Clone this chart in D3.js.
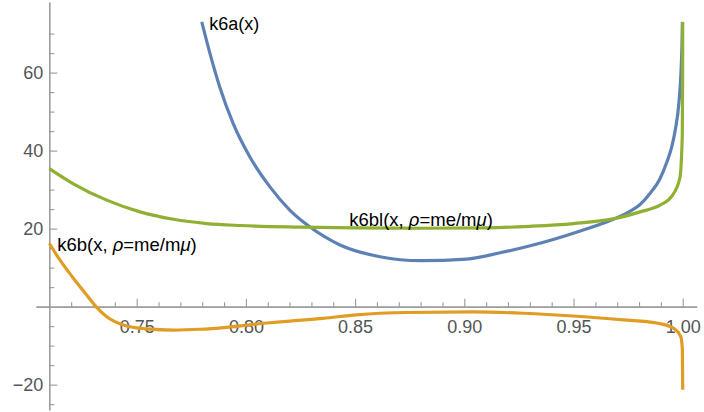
<!DOCTYPE html>
<html>
<head>
<meta charset="utf-8">
<script src="https://cdn.jsdelivr.net/npm/d3@7"></script>
<style>
  html, body { margin: 0; padding: 0; background: #fff; }
  svg { display: block; }
  text { font-family: "Liberation Sans", Arial, Helvetica, sans-serif; }
</style>
</head>
<body>
<svg id="chart" width="704" height="412"></svg>
<script>
// ---- data ----
const k6aX = [0.7798, 0.7836, 0.7881, 0.7942, 0.8019, 0.8110, 0.8202, 0.8294, 0.8431, 0.8614, 0.8800, 0.9011, 0.9164, 0.9302, 0.9531, 0.9682, 0.9760, 0.9805, 0.9850, 0.9896, 0.9927, 0.9950, 0.9965, 0.9983, 0.9992, 0.99965, 0.99985];
const k6aY = [73.0, 64.8, 56.2, 46.9, 38.3, 30.7, 24.7, 20.4, 15.8, 12.8, 11.8, 12.2, 13.8, 15.6, 19.4, 22.4, 24.5, 26.2, 29.0, 32.8, 37.0, 41.0, 45.0, 52.5, 60.0, 67.0, 73.0];

const k6bX = [0.7100, 0.7149, 0.7210, 0.7271, 0.7317, 0.7363, 0.7439, 0.7546, 0.7668, 0.7790, 0.7912, 0.8095, 0.8202, 0.8354, 0.8507, 0.8736, 0.9041, 0.9270, 0.9499, 0.9728, 0.9881, 0.9957, 0.9991, 0.99985, 1.0000];
const k6bY = [16.2, 11.9, 7.3, 3.0, -0.2, -2.6, -4.7, -5.7, -6.0, -5.8, -5.3, -4.2, -3.7, -3.0, -2.1, -1.5, -1.35, -1.7, -2.4, -3.4, -4.2, -5.5, -7.7, -11.0, -21.3];

const k6blX = [0.7100, 0.7210, 0.7363, 0.7515, 0.7668, 0.7821, 0.7973, 0.8248, 0.8500, 0.8800, 0.9100, 0.9300, 0.9500, 0.9682, 0.9805, 0.9896, 0.9951, 0.9987, 0.9998, 0.99995, 1.0000];
const k6blY = [35.4, 31.5, 27.3, 24.3, 22.4, 21.3, 20.8, 20.4, 20.2, 20.1, 20.2, 20.6, 21.3, 22.5, 24.3, 26.0, 28.4, 33.0, 44.0, 58.0, 73.0];

const xMajorTicks = [0.75, 0.80, 0.85, 0.90, 0.95, 1.00];
const xTickLabels = ["0.75", "0.80", "0.85", "0.90", "0.95", "1.00"];
const xMinorTicks = [0.72, 0.73, 0.74, 0.76, 0.77, 0.78, 0.79, 0.81, 0.82, 0.83, 0.84, 0.86, 0.87, 0.88, 0.89, 0.91, 0.92, 0.93, 0.94, 0.96, 0.97, 0.98, 0.99];
const yMajorTicks = [-20, 20, 40, 60];
const yTickLabels = ["\u221220", "20", "40", "60"];
const yMinorTicks = [-25, -15, -10, -5, 5, 10, 15, 25, 30, 35, 45, 50, 55, 65, 70];

const seriesColors = ["#5E81B5", "#E19C24", "#8FB032"];

// ---- layout ----
const svg = d3.select("#chart");
const x = d3.scaleLinear().domain([0.7039, 1.0064]).range([36, 696.7]);
const y = d3.scaleLinear().domain([-26.5, 78.1]).range([410, 2]);
const originX = 0.71;

const axisColor = "#999";
const labelColor = "#555";

// x axis (crosses at y = 0)
const gxMinor = svg.append("g").attr("transform", `translate(0,${y(0)})`)
  .call(d3.axisBottom(x).tickValues(xMinorTicks).tickSizeInner(-4.5).tickSizeOuter(0).tickFormat(""));
const gx = svg.append("g").attr("transform", `translate(0,${y(0)})`)
  .call(d3.axisBottom(x).tickValues(xMajorTicks).tickSizeInner(-8).tickSizeOuter(0).tickPadding(13.3)
    .tickFormat((d, i) => xTickLabels[i]));

// y axis (crosses at x = 0.71)
const gyMinor = svg.append("g").attr("transform", `translate(${x(originX)},0)`)
  .call(d3.axisLeft(y).tickValues(yMinorTicks).tickSizeInner(-5).tickSizeOuter(0).tickFormat(""));
const gy = svg.append("g").attr("transform", `translate(${x(originX)},0)`)
  .call(d3.axisLeft(y).tickValues(yMajorTicks).tickSizeInner(-8).tickSizeOuter(0).tickPadding(6)
    .tickFormat((d, i) => yTickLabels[i]));

[gxMinor, gx, gyMinor, gy].forEach(g => {
  g.select(".domain").attr("stroke", axisColor).attr("stroke-width", 1.1);
  g.selectAll(".tick line").attr("stroke", axisColor).attr("stroke-width", 1.1);
  g.selectAll(".tick text").attr("fill", labelColor).attr("font-size", 18)
    .attr("font-family", "'Liberation Sans', Arial, Helvetica, sans-serif");
});

// ---- curves ----
const line = d3.line().x(d => x(d[0])).y(d => y(d[1])).curve(d3.curveMonotoneX);
const series = [
  d3.zip(k6aX, k6aY),
  d3.zip(k6bX, k6bY),
  d3.zip(k6blX, k6blY)
];
series.forEach((s, i) => {
  svg.append("path").datum(s)
    .attr("d", line)
    .attr("fill", "none")
    .attr("stroke", seriesColors[i])
    .attr("stroke-width", 3.2)
    .attr("stroke-linejoin", "round");
});

// ---- labels ----
function addLabel(xp, yp, parts, size) {
  const t = svg.append("text").attr("x", xp).attr("y", yp)
    .attr("font-size", size).attr("fill", "#000");
  parts.forEach(p => {
    const ts = t.append("tspan").text(p.t);
    if (p.i) ts.attr("font-style", "italic");
  });
}
addLabel(x(0.7832), y(70.8), [{t: "k6a(x)"}], 18);
addLabel(x(0.7136), y(14.2), [{t: "k6b(x, "}, {t: "ρ", i: true}, {t: "=me/m"}, {t: "μ", i: true}, {t: ")"}], 18.5);
addLabel(x(0.8473), y(20.75), [{t: "k6bl(x, "}, {t: "ρ", i: true}, {t: "=me/m"}, {t: "μ", i: true}, {t: ")"}], 18.5);
</script>
</body>
</html>
